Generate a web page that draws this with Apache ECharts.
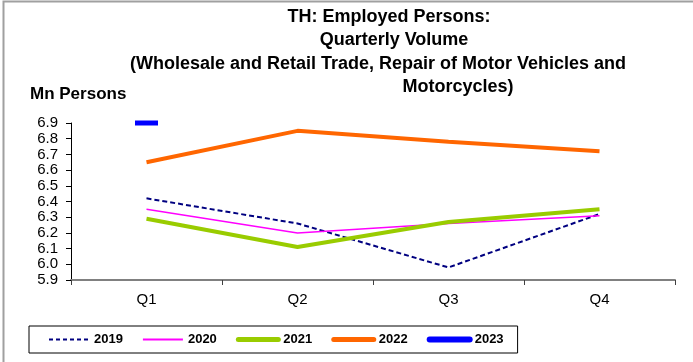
<!DOCTYPE html>
<html>
<head>
<meta charset="utf-8">
<script src="https://cdn.jsdelivr.net/npm/echarts@6/dist/echarts.min.js"></script>
<style>html,body{margin:0;padding:0;background:#fff;}#c{width:693px;height:362px;}</style>
</head>
<body>
<div id="c"></div>
<script>
var categories = ['Q1', 'Q2', 'Q3', 'Q4'];
var v2019 = [6.42, 6.26, 5.98, 6.32];
var v2020 = [6.35, 6.20, 6.26, 6.31];
var v2021 = [6.29, 6.11, 6.27, 6.35];
var v2022 = [6.65, 6.85, 6.78, 6.72];
var v2023 = [6.90, null, null, null];
var yTicks = ['5.9','6.0','6.1','6.2','6.3','6.4','6.5','6.6','6.7','6.8','6.9'];
var titleLines = ['TH: Employed Persons:', 'Quarterly Volume', '(Wholesale and Retail Trade, Repair of Motor Vehicles and', 'Motorcycles)'];

var font = 'Liberation Sans, Arial, sans-serif';
var chart = echarts.init(document.getElementById('c'), null, {renderer: 'canvas'});
var titleX = [389, 394, 378, 458];
var titleY = [8, 31, 55, 78];
var titles = titleLines.map(function (t, i) {
  return {text: t, left: titleX[i], top: titleY[i], textAlign: 'center', padding: 0,
    textStyle: {fontFamily: font, fontSize: 18, fontWeight: 'bold', color: '#000'}};
});
titles.push({text: 'Mn Persons', left: 30, top: 86, padding: 0,
  textStyle: {fontFamily: font, fontSize: 17, fontWeight: 'bold', color: '#000'}});

chart.setOption({
  animation: false,
  backgroundColor: '#fff',
  title: titles,
  graphic: [{type: 'rect', shape: {x: 3.5, y: 1.5, width: 800, height: 500}, style: {fill: 'none', stroke: '#a0a0a0', lineWidth: 2}, silent: true, z: -1}],
  grid: {left: 71, right: 18, top: 123, bottom: 82, containLabel: false},
  legend: {
    left: 29, top: 326,
    padding: [7, 14, 7, 19], itemGap: 19, itemWidth: 40, itemHeight: 8,
    borderColor: '#000', borderWidth: 1, backgroundColor: '#fff',
    itemStyle: {opacity: 0},
    textStyle: {fontFamily: font, fontSize: 13, fontWeight: 'bold', color: '#000', padding: [0, 0, 0, 0]},
    data: [
      {name: '2019', lineStyle: {width: 2, type: [4, 3]}},
      {name: '2020', lineStyle: {width: 2}},
      {name: '2021', lineStyle: {width: 5, cap: 'round'}},
      {name: '2022', lineStyle: {width: 5, cap: 'round'}},
      {name: '2023', lineStyle: {width: 6, cap: 'round'}}
    ]
  },
  xAxis: {
    type: 'category', data: categories, boundaryGap: true,
    axisLine: {lineStyle: {color: '#808080', width: 2}},
    axisTick: {show: true, length: 5, lineStyle: {color: '#404040'}},
    axisLabel: {fontFamily: font, fontSize: 15, color: '#000', margin: 12}
  },
  yAxis: {
    type: 'value', min: 5.9, max: 6.9, interval: 0.1,
    axisLine: {show: true, lineStyle: {color: '#000', width: 1}},
    axisTick: {show: true, length: 5, lineStyle: {color: '#000'}},
    splitLine: {show: false},
    axisLabel: {fontFamily: font, fontSize: 15, color: '#000', margin: 13,
      formatter: function (v) { return yTicks[Math.round((v - 5.9) * 10)] || ''; }}
  },
  series: [
    {name: '2019', type: 'line', data: v2019, symbol: 'none', color: '#000080',
      lineStyle: {color: '#000080', width: 2, type: [5, 3]}},
    {name: '2020', type: 'line', data: v2020, symbol: 'none', color: '#ff00ff',
      lineStyle: {color: '#ff00ff', width: 1.5}},
    {name: '2021', type: 'line', data: v2021, symbol: 'none', color: '#99cc00',
      lineStyle: {color: '#99cc00', width: 4}},
    {name: '2022', type: 'line', data: v2022, symbol: 'none', color: '#ff6600',
      lineStyle: {color: '#ff6600', width: 4}},
    {name: '2023', type: 'line', data: v2023, symbol: 'rect', symbolSize: [23, 5], showSymbol: true,
      color: '#0000ff', itemStyle: {color: '#0000ff'}, lineStyle: {color: '#0000ff', width: 6}}
  ]
});
</script>
</body>
</html>
